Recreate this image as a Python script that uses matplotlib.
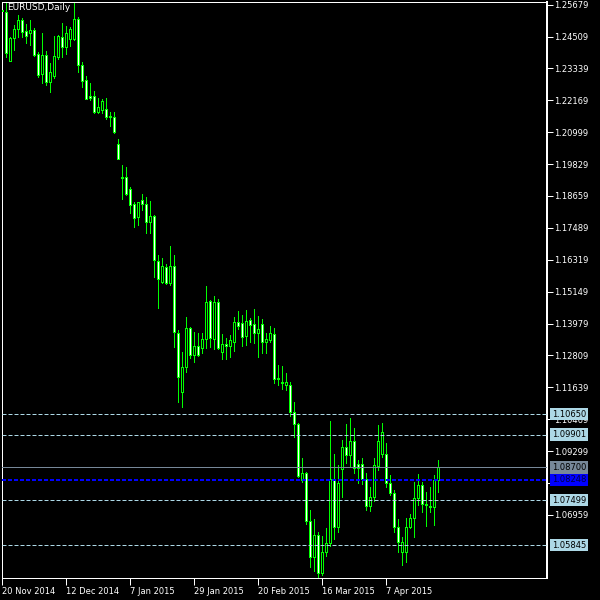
import matplotlib
matplotlib.use('Agg')
import matplotlib.pyplot as plt
import matplotlib.transforms as mtransforms
import numpy as np

symbol_title = 'EURUSD,Daily'

opens = [1.2543, 1.2542, 1.2362, 1.2445, 1.2478, 1.2512, 1.2471, 1.2465, 1.2475, 1.2387,
         1.2314, 1.2383, 1.2285, 1.2306, 1.2377, 1.2448, 1.2414, 1.2441, 1.2441, 1.2516,
         1.2347, 1.2292, 1.2233, 1.2233, 1.2175, 1.2182, 1.2185, 1.2160, 1.2157, 1.2057,
         1.1936, 1.1935, 1.1890, 1.1835, 1.1790, 1.1851, 1.1836, 1.1772, 1.1792, 1.1628,
         1.1551, 1.1604, 1.1548, 1.1609, 1.1362, 1.1148, 1.1237, 1.1380, 1.1282, 1.1315,
         1.1309, 1.1340, 1.1482, 1.1342, 1.1476, 1.1294, 1.1323, 1.1317, 1.1331, 1.1402,
         1.1399, 1.1353, 1.1411, 1.1395, 1.1364, 1.1395, 1.1331, 1.1337, 1.1358, 1.1199,
         1.1184, 1.1173, 1.1172, 1.1074, 1.1029, 1.0824, 1.0848, 1.0674, 1.0540, 1.0622,
         1.0481, 1.0560, 1.0591, 1.0826, 1.0652, 1.0863, 1.0944, 1.0915, 1.0968, 1.0881,
         1.0881, 1.0828, 1.0729, 1.0760, 1.0876, 1.0918, 1.0918, 1.0811, 1.0775, 1.0652,
         1.0560, 1.0560, 1.0651, 1.0683, 1.0756, 1.0804, 1.0734, 1.0723, 1.0723, 1.0824]

highs = [1.2574, 1.2575, 1.2449, 1.2493, 1.2530, 1.2518, 1.2497, 1.2512, 1.2481, 1.2396,
         1.2463, 1.2399, 1.2353, 1.2453, 1.2455, 1.2502, 1.2490, 1.2485, 1.2573, 1.2524,
         1.2359, 1.2306, 1.2280, 1.2252, 1.2226, 1.2221, 1.2227, 1.2174, 1.2174, 1.2074,
         1.1980, 1.1971, 1.1898, 1.1845, 1.1845, 1.1873, 1.1861, 1.1848, 1.1796, 1.1649,
         1.1637, 1.1616, 1.1682, 1.1649, 1.1374, 1.1294, 1.1421, 1.1386, 1.1367, 1.1364,
         1.1362, 1.1536, 1.1484, 1.1499, 1.1487, 1.1358, 1.1344, 1.1356, 1.1421, 1.1444,
         1.1429, 1.1448, 1.1419, 1.1451, 1.1426, 1.1413, 1.1362, 1.1389, 1.1380, 1.1246,
         1.1242, 1.1215, 1.1184, 1.1111, 1.1032, 1.0903, 1.0854, 1.0714, 1.0679, 1.0634,
         1.0618, 1.0646, 1.1040, 1.0919, 1.0879, 1.0970, 1.1029, 1.1051, 1.1014, 1.0897,
         1.0904, 1.0849, 1.0797, 1.0903, 1.1025, 1.1032, 1.0958, 1.0842, 1.0787, 1.0681,
         1.0616, 1.0684, 1.0699, 1.0816, 1.0846, 1.0815, 1.0780, 1.0797, 1.0843, 1.0897]

lows = [1.2534, 1.2377, 1.2360, 1.2402, 1.2448, 1.2451, 1.2429, 1.2420, 1.2380, 1.2304,
        1.2282, 1.2273, 1.2249, 1.2298, 1.2368, 1.2375, 1.2387, 1.2416, 1.2438, 1.2322,
        1.2267, 1.2221, 1.2218, 1.2169, 1.2172, 1.2172, 1.2147, 1.2123, 1.2098, 1.2001,
        1.1855, 1.1870, 1.1802, 1.1753, 1.1759, 1.1814, 1.1729, 1.1729, 1.1570, 1.1456,
        1.1547, 1.1543, 1.1539, 1.1313, 1.1111, 1.1093, 1.1221, 1.1270, 1.1258, 1.1279,
        1.1289, 1.1307, 1.1313, 1.1303, 1.1303, 1.1268, 1.1268, 1.1275, 1.1298, 1.1377,
        1.1315, 1.1319, 1.1331, 1.1325, 1.1276, 1.1291, 1.1289, 1.1331, 1.1181, 1.1172,
        1.1157, 1.1153, 1.1059, 1.0982, 1.0834, 1.0817, 1.0662, 1.0505, 1.0490, 1.0464,
        1.0475, 1.0545, 1.0583, 1.0607, 1.0634, 1.0762, 1.0887, 1.0872, 1.0850, 1.0813,
        1.0808, 1.0714, 1.0710, 1.0748, 1.0860, 1.0907, 1.0799, 1.0769, 1.0632, 1.0560,
        1.0512, 1.0524, 1.0646, 1.0616, 1.0732, 1.0707, 1.0656, 1.0705, 1.0658, 1.0781]

closes = [1.2550, 1.2392, 1.2447, 1.2479, 1.2512, 1.2469, 1.2454, 1.2475, 1.2383, 1.2310,
          1.2383, 1.2285, 1.2322, 1.2380, 1.2453, 1.2412, 1.2463, 1.2479, 1.2516, 1.2347,
          1.2289, 1.2223, 1.2226, 1.2175, 1.2194, 1.2215, 1.2155, 1.2155, 1.2101, 1.2003,
          1.1933, 1.1872, 1.1832, 1.1784, 1.1843, 1.1835, 1.1772, 1.1792, 1.1631, 1.1560,
          1.1609, 1.1548, 1.1609, 1.1366, 1.1200, 1.1237, 1.1380, 1.1282, 1.1317, 1.1282,
          1.1340, 1.1478, 1.1344, 1.1477, 1.1307, 1.1322, 1.1317, 1.1337, 1.1402, 1.1390,
          1.1350, 1.1408, 1.1392, 1.1364, 1.1377, 1.1331, 1.1340, 1.1362, 1.1194, 1.1193,
          1.1179, 1.1183, 1.1074, 1.1028, 1.0838, 1.0848, 1.0674, 1.0540, 1.0622, 1.0483,
          1.0560, 1.0594, 1.0826, 1.0652, 1.0814, 1.0944, 1.0915, 1.0968, 1.0869, 1.0869,
          1.0828, 1.0728, 1.0760, 1.0879, 1.0967, 1.0999, 1.0814, 1.0775, 1.0652, 1.0597,
          1.0597, 1.0651, 1.0683, 1.0756, 1.0804, 1.0734, 1.0731, 1.0729, 1.0824, 1.0870]

date_positions = [0, 16, 32, 48, 64, 80, 96]
date_labels = ['20 Nov 2014', '12 Dec 2014', '7 Jan 2015', '29 Jan 2015',
               '20 Feb 2015', '16 Mar 2015', '7 Apr 2015']

price_ticks = [1.25679, 1.24509, 1.23339, 1.22169, 1.20999, 1.19829, 1.18659, 1.17489,
               1.16319, 1.15149, 1.13979, 1.12809, 1.11639, 1.10469, 1.09299, 1.08129,
               1.06959]

level_prices = [1.10650, 1.09901, 1.07499, 1.05845]
bid_price = 1.08700
blue_price = 1.08248

# --- figure
W, H = 600, 600
fig = plt.figure(figsize=(6, 6), dpi=100, facecolor='black')
left, right, top, bottom = 2.3, 547.0, 2.3, 578.3
ax = fig.add_axes([left / W, 1 - bottom / H, (right - left) / W, (bottom - top) / H])
ax.set_facecolor('black')

n = len(opens)
x = np.arange(n)
o = np.array(opens); c = np.array(closes); hi = np.array(highs); lo = np.array(lows)
green = '#00FF00'
px = 72 / 100.0

ax.vlines(x, lo, hi, color=green, linewidth=px, zorder=2, antialiased=False)
body_bottom = np.minimum(o, c)
body_height = np.maximum(np.abs(c - o), 1e-6)
fills = ['white' if cc < oo else 'black' for oo, cc in zip(o, c)]
ax.bar(x, body_height, bottom=body_bottom, width=0.5, color=fills,
       edgecolor=green, linewidth=px, zorder=3, antialiased=False)

# horizontal levels
for p in level_prices:
    ax.axhline(p, color='#ADD8E6', linewidth=px, linestyle=(0, (4, 2)), zorder=4)
ax.axhline(bid_price, color='#778899', linewidth=px, zorder=4)
ax.axhline(blue_price, color='#0000FF', linewidth=2 * px, linestyle=(0, (2, 1)), zorder=4)

ax.set_xlim(0, (right - left) / 4.0)
ax.set_ylim(1.25679 - (bottom - 4.7) / 2725.0, 1.25679 + (4.7 - top) / 2725.0)

for s in ax.spines.values():
    s.set_color('white')
    s.set_linewidth(px)
ax.spines['right'].set_linewidth(2 * px)

ax.yaxis.tick_right()
ax.set_yticks(price_ticks)
ax.set_yticklabels(['%.5f' % t for t in price_ticks])
ax.tick_params(axis='y', colors='white', labelcolor='white', labelsize=6,
               length=4, width=px, pad=1, direction='out')
ax.set_xticks(date_positions)
ax.set_xticklabels(date_labels)
ax.tick_params(axis='x', colors='white', labelcolor='white', labelsize=6,
               length=5, width=px, pad=1, direction='out')
for lbl in ax.get_xticklabels():
    lbl.set_ha('left')

fig.text(7 / W, 1 - 3 / H, symbol_title, color='white', fontsize=6.5, ha='left', va='top')

trans = mtransforms.blended_transform_factory(fig.transFigure, ax.transData)
for p in level_prices:
    fig.text(552 / W, p, '%.5f' % p, transform=trans, fontsize=6, color='black',
             ha='left', va='center',
             bbox=dict(boxstyle='square,pad=0.2', fc='#ADD8E6', ec='none'))
fig.text(552 / W, bid_price, '%.5f' % bid_price, transform=trans, fontsize=6, color='black',
         ha='left', va='center', bbox=dict(boxstyle='square,pad=0.2', fc='#778899', ec='none'))
fig.text(552 / W, blue_price, '%.5f' % blue_price, transform=trans, fontsize=6, color='#000040',
         ha='left', va='center', bbox=dict(boxstyle='square,pad=0.2', fc='#0000FF', ec='none'))

fig.savefig('out.png', dpi=100, facecolor='black')
